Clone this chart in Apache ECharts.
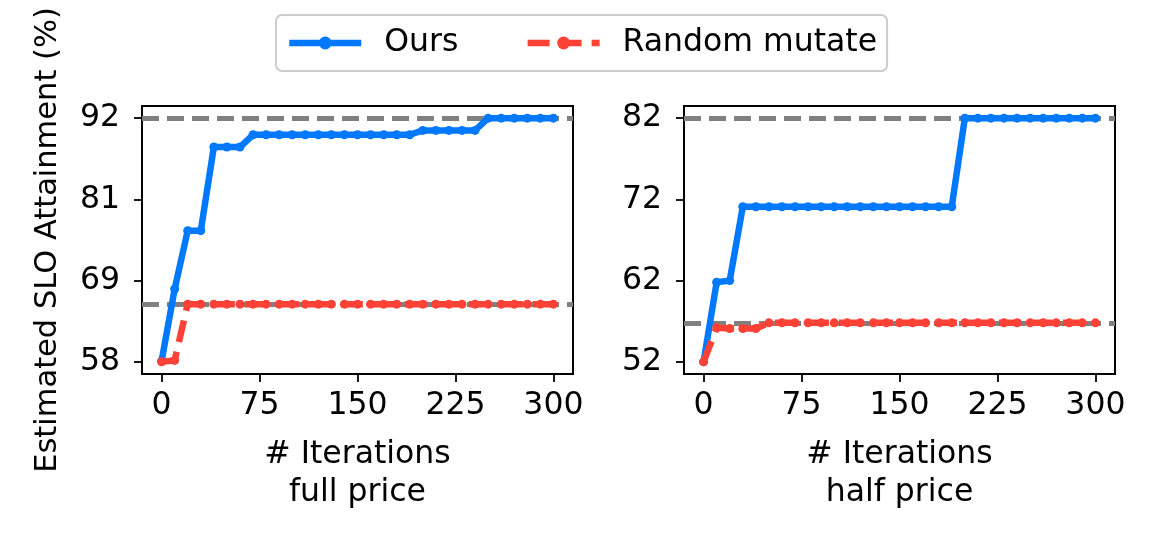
<!DOCTYPE html>
<html>
<head>
<meta charset="utf-8">
<script src="https://cdn.jsdelivr.net/npm/echarts@6/dist/echarts.min.js"></script>
<style>
html,body{margin:0;padding:0;background:#fff;}
#chart{width:1163px;height:533px;}
</style>
</head>
<body>
<div id="chart"></div>
<script>
// ---- data ----
const iterations = [0,10,20,30,40,50,60,70,80,90,100,110,120,130,140,150,160,170,180,190,200,210,220,230,240,250,260,270,280,290,300];

const fullOurs = [58.3,68.3,76.4,76.4,88.0,88.0,88.0,89.7,89.7,89.7,89.7,89.7,89.7,89.7,89.7,89.7,89.7,89.7,89.7,89.7,90.3,90.3,90.3,90.3,90.3,92.0,92.0,92.0,92.0,92.0,92.0];
const fullRandom = [58.2,58.4,66.2,66.2,66.2,66.2,66.2,66.2,66.2,66.2,66.2,66.2,66.2,66.2,66.2,66.2,66.2,66.2,66.2,66.2,66.2,66.2,66.2,66.2,66.2,66.2,66.2,66.2,66.2,66.2,66.2];
const halfOurs = [52.0,61.8,62.0,71.1,71.1,71.1,71.1,71.1,71.1,71.1,71.1,71.1,71.1,71.1,71.1,71.1,71.1,71.1,71.1,71.1,82.0,82.0,82.0,82.0,82.0,82.0,82.0,82.0,82.0,82.0,82.0];
const halfRandom = [52.0,56.2,56.1,56.1,56.1,56.8,56.8,56.8,56.8,56.8,56.8,56.8,56.8,56.8,56.8,56.8,56.8,56.8,56.8,56.8,56.8,56.8,56.8,56.8,56.8,56.8,56.8,56.8,56.8,56.8,56.8];

const fullRefLines = [92.0, 66.2];
const halfRefLines = [82.0, 56.8];

const xTicks = [0,75,150,225,300];
const fullYTicks = [58.2, 69.47, 80.73, 92.0];
const halfYTicks = [52, 62, 72, 82];

const seriesNames = ['Ours', 'Random mutate'];
const panelNames = ['# Iterations\nfull price', '# Iterations\nhalf price'];
const yAxisTitle = 'Estimated SLO Attainment (%)';

// ---- styles ----
const FONT = 'DejaVu Sans';
const FS = 31.5;
const BLUE = '#0079fe';
const RED = '#ff4136';
const GRAY = '#808080';

function pad(ticks){ const r = ticks[ticks.length-1]-ticks[0]; return [ticks[0]-0.05*r, ticks[ticks.length-1]+0.05*r]; }
const xr = pad(xTicks);
const fy = pad(fullYTicks);
const hy = pad(halfYTicks);

function xAxis(idx, name){
  return {
    type:'value', gridIndex: idx, min: xr[0], max: xr[1],
    name: name, nameLocation:'middle', nameGap: 62,
    nameTextStyle:{fontFamily:FONT,fontSize:FS,color:'#000',lineHeight:38},
    axisLine:{show:true,onZero:false,lineStyle:{color:'#000',width:2}},
    axisTick:{show:true,inside:false,length:8,lineStyle:{color:'#000',width:1.8},customValues:xTicks},
    axisLabel:{show:true,fontFamily:FONT,fontSize:FS,color:'#000',margin:16,customValues:xTicks,
      formatter:v=>String(Math.round(v))},
    splitLine:{show:false}
  };
}
function yAxis(idx, rng, ticks, name){
  const o = {
    type:'value', gridIndex: idx, min: rng[0], max: rng[1],
    axisLine:{show:true,onZero:false,lineStyle:{color:'#000',width:2}},
    axisTick:{show:true,inside:false,length:8,lineStyle:{color:'#000',width:1.8},customValues:ticks},
    axisLabel:{show:true,fontFamily:FONT,fontSize:FS,color:'#000',margin:22,customValues:ticks,
      formatter:v=>String(Math.round(v))},
    splitLine:{show:false}
  };
  if (name){
    o.name = name; o.nameLocation='middle'; o.nameGap = 78; o.nameRotate = 90;
    o.nameTextStyle = {fontFamily:FONT,fontSize:30.5,color:'#000'};
  }
  return o;
}
function zip(xs, ys){ return xs.map((x,i)=>[x, ys[i]]); }
function refSeries(idx, vals){
  return {
    type:'line', xAxisIndex:idx, yAxisIndex:idx, data:[], z:1, silent:true,
    markLine:{ z:1, silent:true, symbol:'none', animation:false, label:{show:false},
      lineStyle:{color:GRAY,width:5,type:[17,8]},
      data: vals.map(v=>({yAxis:v})) }
  };
}
function dataSeries(idx, name, ys, color, dashed){
  return {
    name:name, type:'line', xAxisIndex:idx, yAxisIndex:idx, data: zip(iterations, ys),
    z: dashed ? 4 : 3,
    symbol:'circle', symbolSize:9, showSymbol:true, showAllSymbol:true,
    itemStyle:{color:color},
    lineStyle:{color:color,width:6.5,type: dashed ? [22,10] : 'solid'},
    animation:false
  };
}

const chart = echarts.init(document.getElementById('chart'), null, {renderer:'canvas'});
chart.setOption({
  animation:false,
  backgroundColor:'#fff',
  legend:{
    data: seriesNames,
    left: 276, top: 15,
    padding:[12,10,12,10],
    itemWidth:72, itemHeight:16, itemGap:66,
    borderColor:'#cccccc', borderWidth:2, borderRadius:6,
    lineStyle:{width:6.5},
    textStyle:{fontFamily:FONT,fontSize:FS,color:'#000',padding:[0,0,0,18]}
  },
  grid:[
    {left:142, top:106, width:431, height:268, show:true, borderColor:'#000', borderWidth:2, backgroundColor:'transparent', containLabel:false, outerBoundsMode:'none'},
    {left:684, top:106, width:431, height:268, show:true, borderColor:'#000', borderWidth:2, backgroundColor:'transparent', containLabel:false, outerBoundsMode:'none'}
  ],
  xAxis:[ xAxis(0, panelNames[0]), xAxis(1, panelNames[1]) ],
  yAxis:[ yAxis(0, fy, fullYTicks, yAxisTitle), yAxis(1, hy, halfYTicks, null) ],
  series:[
    refSeries(0, fullRefLines),
    refSeries(1, halfRefLines),
    dataSeries(0, seriesNames[0], fullOurs, BLUE, false),
    dataSeries(0, seriesNames[1], fullRandom, RED, true),
    dataSeries(1, seriesNames[0], halfOurs, BLUE, false),
    dataSeries(1, seriesNames[1], halfRandom, RED, true)
  ]
});
</script>
</body>
</html>
